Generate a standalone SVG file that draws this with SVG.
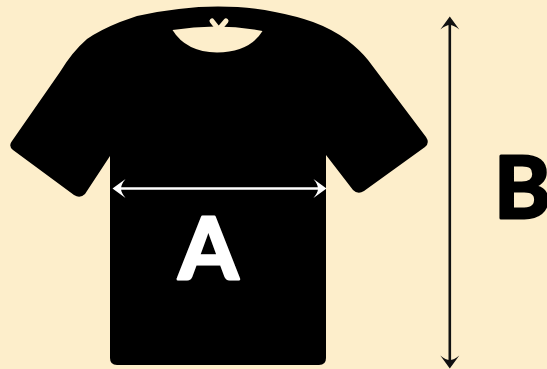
<svg xmlns="http://www.w3.org/2000/svg" width="547" height="369" viewBox="0 0 547 369">
<style>
.lbl{font-family:"Lato","Liberation Sans",sans-serif;font-weight:700;font-size:86px;stroke-width:3px;stroke-linejoin:round}
.dim{fill:none;stroke-width:2.600}
</style>
<defs>
<path id="head" d="M0 0L-13 -9.500Q-8.500 -4 -8.500 0Q-8.500 4 -13 9.500Z"/>
</defs>
<rect width="547" height="369" fill="#fdeecb"/>
<g id="shirt">
<path fill="#000" d="M137 16Q180 6.500 218 6.500Q250 6.500 275 12Q296 16 313 22Q332 29 347 40Q360 50 368 60L426 137Q430 143 425 147L364 191Q358 195 353 190L326 155L326 358Q326 365 319 365L117 365Q110 365 110 358L110 156L85 194Q80 199 74 195L13 150Q8 146 12 141L60 72Q72 52 87 39Q100 30 120 22Z"/>
<path fill="#fdeecb" d="M172.500 30Q218 22.500 262.500 31Q250 52 217 52.500Q186 52 172.500 30Z"/>
<path fill="none" stroke="#fdeecb" stroke-width="5" stroke-linecap="round" d="M212 21L217.500 28M226 21L220 28"/>
</g>
<g id="connectors">
<path class="dim" stroke="#fff" d="M118 188.500H320"/>
<use href="#head" fill="#fff" transform="translate(112.500 188.500) rotate(180)"/>
<use href="#head" fill="#fff" transform="translate(326.500 188.500)"/>
<path class="dim" stroke="#111" d="M449.800 24V362"/>
<use href="#head" fill="#111" transform="translate(449.800 16.500) rotate(-90)"/>
<use href="#head" fill="#111" transform="translate(449.800 368.500) rotate(90)"/>
</g>
<g id="label-a"><text class="lbl" x="178.500" y="278.500" fill="#fff" stroke="#fff">A</text></g>
<g id="label-b"><text class="lbl" x="494" y="218" fill="#000" stroke="#000">B</text></g>
</svg>
